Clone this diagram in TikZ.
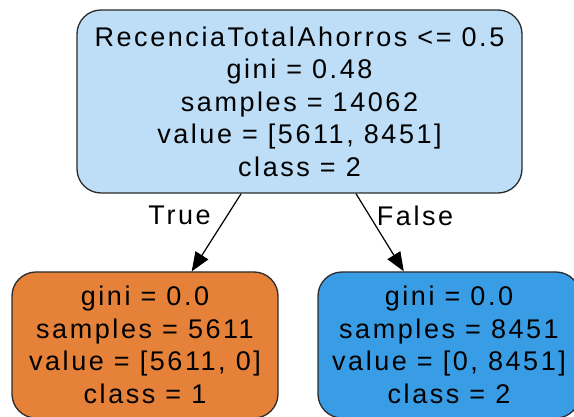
\documentclass[tikz,border=0pt]{standalone}
\usepackage{fontspec}
\setmainfont[LetterSpace=9.5]{Liberation Sans}
\usepackage{tikz}
\usepackage{xcolor}
\usetikzlibrary{arrows.meta,positioning,shapes,calc}
\definecolor{edgeink}{HTML}{2B2B2B}
\definecolor{splitblue}{HTML}{BDDEF6}
\definecolor{leaforange}{HTML}{E58139}
\definecolor{leafblue}{HTML}{399DE5}
\tikzset{
  treebox/.style={draw=edgeink,line width=1.3pt,rounded corners=24pt,
                  align=center,inner sep=0pt,
                  font=\fontsize{27}{32.5}\selectfont},
  edgearr/.style={-{Triangle[length=19pt,width=15pt]},line width=1.2pt,color=black},
  edgelab/.style={font=\fontsize{27}{30}\selectfont,inner sep=0pt}
}
\begin{document}
\begin{tikzpicture}[x=1pt,y=-1pt]
  \useasboundingbox (0,0) rectangle (574,417);
  \clip (0,0) rectangle (574,417);
  \node[treebox,fill=splitblue,minimum width=445pt,minimum height=183pt] (root) at (299.5,101.5)
    {RecenciaTotalAhorros <= 0.5\\gini = 0.48\\samples = 14062\\value = [5611, 8451]\\class = 2};
  \node[treebox,fill=leaforange,minimum width=266pt,minimum height=146pt] (leftleaf) at (145,345)
    {gini = 0.0\\samples = 5611\\value = [5611, 0]\\class = 1};
  \node[treebox,fill=leafblue,minimum width=262pt,minimum height=146pt] (rightleaf) at (449,345)
    {gini = 0.0\\samples = 8451\\value = [0, 8451]\\class = 2};
  % edges, centre to centre as graphviz does
  \draw[edgearr] (root) -- node[edgelab,pos=0.28,left=16pt] (truelab) {True} (leftleaf);
  \draw[edgearr] (root) -- node[edgelab,pos=0.28,right=7pt] (falselab) {False} (rightleaf);
\end{tikzpicture}
\end{document}
